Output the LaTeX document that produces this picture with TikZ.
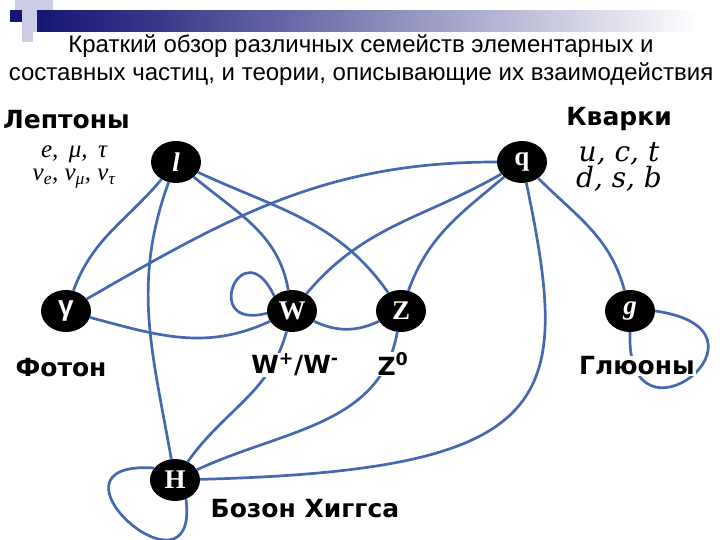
\documentclass[tikz,border=0pt]{standalone}
\usepackage{fontspec}
\setmainfont{Liberation Sans}
\newfontfamily\famfont{DejaVu Sans}
\newfontfamily\flavfont{Liberation Serif}
\newfontfamily\quarkfont{DejaVu Serif}
\usetikzlibrary{shapes.geometric}
\definecolor{linkblue}{RGB}{70,104,176}
\definecolor{barnavy}{RGB}{22,22,118}
\definecolor{lavender}{RGB}{204,204,230}

\begin{document}
\begin{tikzpicture}[x=1pt, y=1pt,
    part/.style={ellipse, fill=black, text=white, minimum width=50pt, minimum height=42pt,
      inner sep=0pt, font=\flavfont\bfseries\fontsize{27}{27}\selectfont},
    fam/.style={font=\famfont\bfseries\fontsize{25}{25}\selectfont, fill=white, inner sep=1pt},
    flav/.style={font=\flavfont\itshape\fontsize{25}{23}\selectfont, inner sep=0pt, align=center},
    qflav/.style={font=\quarkfont\itshape\fontsize{28}{25}\selectfont, inner sep=0pt, align=center},
    link/.style={draw=linkblue, line width=2.7pt}
  ]
  \useasboundingbox (0,0) rectangle (720,540);

  % Header bar
  \fill[lavender] (15,530) rectangle (53,540);
  \fill[lavender] (22,508) rectangle (53,530);
  \fill[lavender] (22,498) rectangle (33,508);
  \fill[barnavy] (10,518) rectangle (22,530);
  \shade[left color=barnavy, right color=barnavy!85!white] (37,508) rectangle (160,529);
  \shade[left color=barnavy!85!white, right color=white] (160,508) rectangle (700,529);
  \node[font=\fontsize{24}{28}\selectfont, align=center] (title) at (361,480)
    {Краткий обзор различных семейств элементарных и\\
     составных частиц, и теории, описывающие их взаимодействия};

  % Particles
  \node[part] (l)  at (176,378) {\itshape l};
  \node[part] (q)  at (522,378) {q};
  \node[part, font=\rmfamily\bfseries\fontsize{28}{28}\selectfont] (ga) at (66,229) {γ};
  \node[part] (W)  at (292,229) {W};
  \node[part] (Z)  at (401,229) {Z};
  \node[part] (g)  at (630,229) {\itshape g};
  \node[part] (H)  at (175,60)  {H};

  % Interactions
  \draw[link] (l) to[out=-130, in=70] (ga);
  \draw[link] (l) to[out=-110, in=100] (H);
  \draw[link] (l) to[out=-40, in=100] (W);
  \draw[link] (l) to[out=-25, in=125] (Z);
  \draw[link] (q) to[out=180, in=30] (ga);
  \draw[link] (q) to[out=-150, in=50] (W);
  \draw[link] (q) to[out=-140, in=70] (Z);
  \draw[link] (q) .. controls +(50,-240) and +(385,10) .. (H);
  \draw[link] (q) to[out=-45, in=105] (g);
  \draw[link] (ga) to[out=-15, in=-155] (W);
  \draw[link] (W) to[out=-25, in=-155] (Z);
  \draw[link] (W) to[out=-105, in=55] (H);
  \draw[link] (Z) to[out=-100, in=25] (H);

  % Self-loops
  \draw[link] (W.140) .. controls +(115:75) and +(195:70) .. (W.185);
  \draw[link] (g.south) .. controls (625,80) and (790,210) .. (g.east);
  \draw[link] (H.150) .. controls (30,80) and (200,-70) .. (H.-60);

  % Families and flavours
  \node[fam, anchor=west] (leptons) at (2,420) {Лептоны};
  \node[fam] (quarks) at (619,421) {Кварки};
  \node[flav] (lflav) at (74,373)
    {e,\, μ,\, τ\\ ν\textsubscript{e}, ν\textsubscript{μ}, ν\textsubscript{τ}};
  \node[qflav] (qflav) at (619,373) {u, c, t\\ d, s, b};

  \node[fam] (photon) at (61,172) {Фотон};
  \node[fam] (wlab)   at (295,175) {W\textsuperscript{+}/W\textsuperscript{-}};
  \node[fam] (zlab)   at (393,176) {Z\textsuperscript{0}};
  \node[fam] (gluons) at (637,174) {Глюоны};
  \node[fam] (higgs)  at (305,31)  {Бозон Хиггса};
\end{tikzpicture}
\end{document}
